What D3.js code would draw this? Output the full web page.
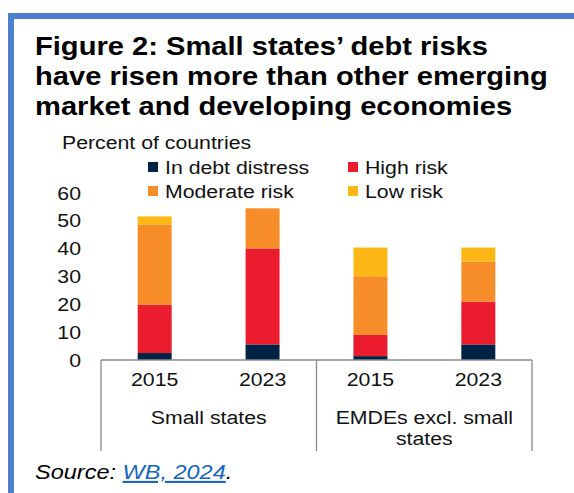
<!DOCTYPE html>
<html>
<head>
<meta charset="utf-8">
<script src="https://cdn.jsdelivr.net/npm/d3@7"></script>
<style>
  body { margin: 0; background: #fff; }
  svg { display: block; font-family: "Liberation Sans", Arial, sans-serif; }
</style>
</head>
<body>
<div id="chart"></div>
<script>
const groups = ['Small states', 'EMDEs excl. small states'];
const years = ['2015', '2023', '2015', '2023'];
const barKeys = ['SS-2015', 'SS-2023', 'EM-2015', 'EM-2023'];
const seriesNames = ['In debt distress', 'High risk', 'Moderate risk', 'Low risk'];
const inDistress = [2.5, 5.6, 1.4, 5.6];
const highRisk = [17.3, 34.5, 7.6, 15.4];
const moderateRisk = [28.8, 14.4, 21.1, 14.4];
const lowRisk = [3.0, 0, 10.3, 5.0];
const yTicks = [0, 10, 20, 30, 40, 50, 60];
const colors = ['#002244', '#eb1c2d', '#f78d28', '#fdb714'];

const width = 574, height = 493;
// the original picture is slightly wider than tall, so text is stretched sideways
const stretch = 1.12;

const svg = d3.select('#chart').append('svg')
    .attr('width', width)
    .attr('height', height);

// blue frame (top and left edges only)
svg.append('rect').attr('x', 8).attr('y', 13).attr('width', width - 8).attr('height', 6).attr('fill', '#4a80cc');
svg.append('rect').attr('x', 8).attr('y', 13).attr('width', 6).attr('height', height - 13).attr('fill', '#4a80cc');

// title
const titleLines = ['Figure 2: Small states\u2019 debt risks',
    'have risen more than other emerging',
    'market and developing economies'];
svg.append('text')
    .attr('x', 35).attr('y', 55)
    .attr('font-size', 26).attr('font-weight', 'bold').attr('fill', '#000')
    .selectAll('tspan')
    .data(titleLines)
    .join('tspan')
    .attr('x', 35)
    .attr('dy', (d, i) => i === 0 ? 0 : 30)
    .text(d => d);

svg.append('text')
    .attr('x', 62).attr('y', 149)
    .attr('font-size', 19).attr('fill', '#111')
    .text('Percent of countries');

// legend
const legendPos = [[148, 167], [348, 167], [148, 191], [348, 191]];
const legend = svg.append('g').selectAll('g')
    .data(seriesNames)
    .join('g')
    .attr('transform', (d, i) => `translate(${legendPos[i][0]},${legendPos[i][1]})`);
legend.append('rect')
    .attr('x', 0).attr('y', -5).attr('width', 10).attr('height', 10)
    .attr('fill', (d, i) => colors[i]);
legend.append('text')
    .attr('x', 17).attr('y', 7)
    .attr('font-size', 19).attr('fill', '#111')
    .text(d => d);

// scales
const x = d3.scaleBand()
    .domain(barKeys)
    .range([101, 532])
    .paddingInner(0.685)
    .paddingOuter(0.34);
const y = d3.scaleLinear()
    .domain([0, 60])
    .range([360, 193]);

// stacked data
const table = barKeys.map((k, i) => ({
    key: k,
    'In debt distress': inDistress[i],
    'High risk': highRisk[i],
    'Moderate risk': moderateRisk[i],
    'Low risk': lowRisk[i]
}));
const stacked = d3.stack().keys(seriesNames)(table);

svg.append('g').selectAll('g')
    .data(stacked)
    .join('g')
    .attr('fill', (d, i) => colors[i])
    .selectAll('rect')
    .data(d => d)
    .join('rect')
    .attr('x', d => x(d.data.key))
    .attr('y', d => y(d[1]))
    .attr('width', x.bandwidth())
    .attr('height', d => y(d[0]) - y(d[1]));

// y axis: labels only
const yAxis = svg.append('g')
    .attr('transform', 'translate(88,0)')
    .call(d3.axisLeft(y).tickValues(yTicks).tickSize(0).tickPadding(7));
yAxis.select('.domain').remove();
yAxis.selectAll('text')
    .attr('font-size', 19).attr('font-family', null).attr('fill', '#111');

// x axis: baseline, separators, year and group labels
const xAxis = svg.append('g')
    .attr('transform', 'translate(0,360)')
    .call(d3.axisBottom(x).tickSize(0).tickPadding(13).tickFormat((d, i) => years[i]));
xAxis.select('.domain').remove();
xAxis.selectAll('text')
    .attr('font-size', 19).attr('font-family', null).attr('fill', '#111');

const axisColor = '#8a8a8a';
svg.append('line')
    .attr('x1', 101).attr('x2', 532).attr('y1', 360).attr('y2', 360)
    .attr('stroke', axisColor).attr('stroke-width', 1.3);
const seps = [x.range()[0], (x('SS-2023') + x('EM-2015') + x.bandwidth()) / 2, x.range()[1]];
svg.append('g').selectAll('line')
    .data(seps)
    .join('line')
    .attr('x1', d => d).attr('x2', d => d)
    .attr('y1', 360).attr('y2', 451)
    .attr('stroke', axisColor).attr('stroke-width', 1.3);

const groupLines = [['Small states'], ['EMDEs excl. small', 'states']];
svg.append('g').selectAll('text')
    .data(groups)
    .join('text')
    .attr('x', (d, i) => (seps[i] + seps[i + 1]) / 2)
    .attr('y', 424)
    .attr('text-anchor', 'middle')
    .attr('font-size', 19).attr('fill', '#111')
    .selectAll('tspan')
    .data((d, i) => groupLines[i])
    .join('tspan')
    .attr('x', function () { return this.parentNode.getAttribute('x'); })
    .attr('dy', (d, i) => i === 0 ? 0 : 21)
    .text(d => d);

// source note
const src = svg.append('text')
    .attr('x', 35).attr('y', 479)
    .attr('font-size', 21).attr('font-style', 'italic').attr('fill', '#000');
src.append('tspan').text('Source: ');
src.append('tspan').attr('fill', '#1565c0').attr('text-decoration', 'underline').text('WB, 2024');
src.append('tspan').text('.');

// widen every text about its own anchor x
svg.selectAll('text').each(function () {
    const ax = +(this.getAttribute('x') || 0);
    d3.select(this).attr('transform', `translate(${ax * (1 - stretch)},0) scale(${stretch},1)`);
});
</script>
</body>
</html>
